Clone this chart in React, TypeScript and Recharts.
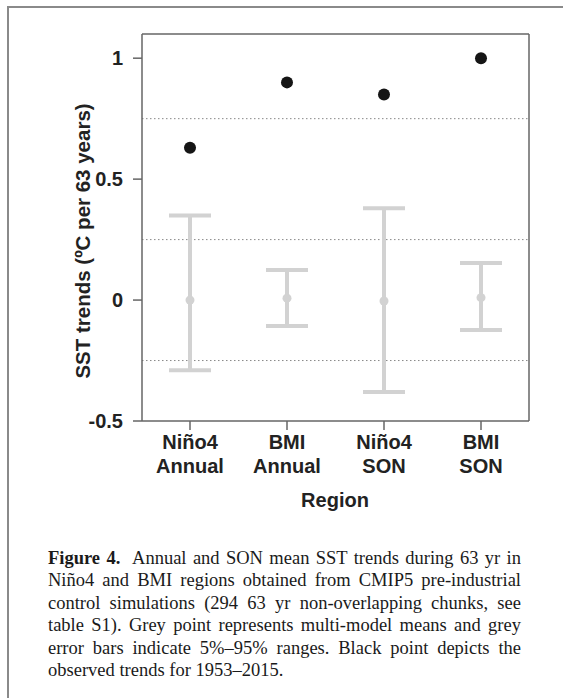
import React from 'react';
import { ComposedChart, Scatter, XAxis, YAxis, ErrorBar, ReferenceLine } from 'recharts';

const regionTop = ['Niño4', 'BMI', 'Niño4', 'BMI'];
const regionBottom = ['Annual', 'Annual', 'SON', 'SON'];
const modelMeans = [0.0, 0.008, -0.004, 0.01];
const lower5 = [-0.29, -0.107, -0.38, -0.124];
const upper95 = [0.35, 0.124, 0.38, 0.153];
const observed = [0.63, 0.9, 0.85, 1.0];
const yTicks = [-0.5, 0, 0.5, 1];
const dottedLevels = [-0.25, 0.25, 0.75];

const data = regionTop.map((t, i) => ({
  name: `${t} ${regionBottom[i]}`,
  mean: modelMeans[i],
  err: [modelMeans[i] - lower5[i], upper95[i] - modelMeans[i]],
  obs: observed[i],
}));

const AXIS = '#666';
const GREY = '#d2d2d2';
const FONT = '"Liberation Sans", Arial, sans-serif';

const XTick = (props: any) => {
  const { x, y, payload } = props;
  const [a, b] = String(payload.value).split(' ');
  return (
    <text x={x} y={y} textAnchor="middle" fontFamily={FONT} fontWeight="bold" fontSize={20} fill="#222">
      <tspan x={x} dy={17}>{a}</tspan>
      <tspan x={x} dy={24}>{b}</tspan>
    </text>
  );
};

const GreyDot = (props: any) => <circle cx={props.cx} cy={props.cy} r={4.5} fill={GREY} />;
const BlackDot = (props: any) => <circle cx={props.cx} cy={props.cy} r={6} fill="#151515" />;

const captionLines = [
  [<b key="f">Figure 4.</b>, '\u00a0 Annual and SON mean SST trends during 63 yr in'],
  ['Niño4 and BMI regions obtained from CMIP5 pre-industrial'],
  ['control simulations (294 63 yr non-overlapping chunks, see'],
  ['table S1). Grey point represents multi-model means and grey'],
  ['error bars indicate 5%–95% ranges. Black point depicts the'],
  ['observed trends for 1953–2015.'],
];

export default function App() {
  return (
    <div style={{ position: 'fixed', left: 0, top: 0, width: 563, height: 698, background: '#fff', overflow: 'hidden' }}>
      <div style={{ position: 'absolute', left: 7, top: 6, width: 620, height: 720, borderTop: '2px solid #8a8a8a', borderLeft: '2px solid #8a8a8a' }} />
      <div style={{ position: 'absolute', left: 0, top: 0 }}>
        <ComposedChart width={563} height={540} data={data} margin={{ top: 34, right: 0, bottom: 59, left: 0 }}>
          <XAxis dataKey="name" xAxisId="x" height={60} interval={0} padding={{ left: 48, right: 48 }} tickSize={9} tickLine={{ stroke: AXIS, strokeWidth: 1.5 }} axisLine={{ stroke: AXIS, strokeWidth: 1.5 }} tick={<XTick />} />
          <YAxis yAxisId="left" type="number" width={142} domain={[-0.5, 1.1]} ticks={yTicks} allowDataOverflow tickSize={9} tickMargin={10}
            tickLine={{ stroke: AXIS, strokeWidth: 1.5 }} axisLine={{ stroke: AXIS, strokeWidth: 1.5 }}
            tick={{ fontFamily: FONT, fontWeight: 'bold', fontSize: 20, fill: '#222' }} tickFormatter={(v: number) => String(v)} />
          <YAxis yAxisId="right" orientation="right" type="number" width={34} domain={[-0.5, 1.1]} ticks={yTicks} allowDataOverflow tickSize={9}
            tickLine={{ stroke: AXIS, strokeWidth: 1.5 }} axisLine={{ stroke: AXIS, strokeWidth: 1.5 }} tick={false} />
          <ReferenceLine xAxisId="x" yAxisId="left" y={1.1} stroke={AXIS} strokeWidth={1.5} />
          {dottedLevels.map((v) => (
            <ReferenceLine key={v} xAxisId="x" yAxisId="left" y={v} stroke="#888" strokeWidth={1} strokeDasharray="1.5 2.5" />
          ))}
          <Scatter xAxisId="x" yAxisId="left" dataKey="mean" fill={GREY} shape={<GreyDot />} isAnimationActive={false}>
            <ErrorBar dataKey="err" direction="y" width={21} strokeWidth={4} stroke={GREY} />
          </Scatter>
          <Scatter xAxisId="x" yAxisId="left" dataKey="obs" fill="#151515" shape={<BlackDot />} isAnimationActive={false} />
        </ComposedChart>
      </div>
      <svg width={563} height={698} style={{ position: 'absolute', left: 0, top: 0, pointerEvents: 'none' }}>
        <text x={335} y={502} textAnchor="middle" dominantBaseline="middle" fontFamily={FONT} fontWeight="bold" fontSize={20} fill="#222">Region</text>
        <text x={85} y={241} textAnchor="middle" dominantBaseline="middle" transform="rotate(-90 85 241)" fontFamily={FONT} fontWeight="bold" fontSize={20.5} fill="#222">SST trends (ºC per 63 years)</text>
      </svg>
      <div style={{ position: 'absolute', left: 48, top: 547, width: 473, fontFamily: '"Liberation Serif", "Times New Roman", serif', fontSize: 18.5, lineHeight: '22.4px', color: '#1a1a1a' }}>
        {captionLines.map((l, i) => (
          <div key={i} style={{ textAlign: i === captionLines.length - 1 ? 'left' : 'justify', textAlignLast: i === captionLines.length - 1 ? 'left' : 'justify', whiteSpace: 'nowrap' }}>
            {l}
          </div>
        ))}
      </div>
    </div>
  );
}
